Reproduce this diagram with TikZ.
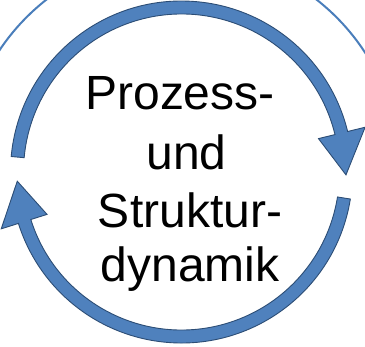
\documentclass[tikz,border=0pt]{standalone}
\usepackage{fontspec}
\setmainfont{Liberation Sans}
\begin{document}
\begin{tikzpicture}[x=1pt,y=1pt,
  ringarrow/.style={fill=arrowblue, draw=arrowedge, line width=0.9pt, line join=miter},
  outerring/.style={draw=thinblue, line width=2pt},
  label/.style={font=\fontsize{48}{57}\selectfont, inner sep=0pt, anchor=base, text=black}]
\definecolor{arrowblue}{HTML}{4F81BD}
\definecolor{arrowedge}{HTML}{2C4D75}
\definecolor{thinblue}{HTML}{4A7EBB}
\clip (0,0) rectangle (365,-347);
\fill[white] (0,0) rectangle (365,-347);
\coordinate (c) at (181.5,-172);
\begin{scope}[shift={(c)}]
  % upper parts of a large surrounding ring, seen in the top corners
  \draw[outerring] (160:219) arc[start angle=160, end angle=115, radius=219pt];
  \draw[outerring] (65:219) arc[start angle=65, end angle=20, radius=219pt];
  % upper arrow: from the left side, clockwise over the top to the right
  \draw[ringarrow] (174.8:171) arc[start angle=174.8, end angle=13.7, radius=171pt]
    -- (13.7:189) -- (-1:164.5) -- (13.7:141) -- (13.7:158)
    arc[start angle=13.7, end angle=174.8, radius=158pt] -- cycle;
  % lower arrow: from the right side, clockwise under the bottom to the left
  \draw[ringarrow] (-9.1:171) arc[start angle=-9.1, end angle=-162.5, radius=171pt]
    -- (-162.5:189) -- (-176.8:164.5) -- (-162.5:141) -- (-162.5:158)
    arc[start angle=-162.5, end angle=-9.1, radius=158pt] -- cycle;
\end{scope}
\node[label] (l1) at (180,-110) {Prozess-};
\node[label] (l2) at (186.5,-170) {und};
\node[label] (l3) at (190,-228) {Struktur-};
\node[label] (l4) at (190,-282) {dynamik};
\end{tikzpicture}
\end{document}
